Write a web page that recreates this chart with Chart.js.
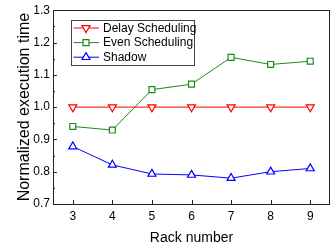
<!DOCTYPE html>
<html>
<head>
<meta charset="utf-8">
<script src="https://cdn.jsdelivr.net/npm/chart.js@4"></script>
<style>
html,body{margin:0;padding:0;background:#fff;}
#wrap{width:336px;height:251px;}
</style>
</head>
<body>
<div id="wrap"><canvas id="c" width="336" height="251"></canvas></div>
<script>
const racks = [3, 4, 5, 6, 7, 8, 9];
const delayScheduling = [1.0, 1.0, 1.0, 1.0, 1.0, 1.0, 1.0];
const evenScheduling = [0.940, 0.929, 1.054, 1.071, 1.154, 1.132, 1.142];
const shadow = [0.878, 0.821, 0.793, 0.790, 0.780, 0.800, 0.810];
const yTicks = [0.7, 0.8, 0.9, 1.0, 1.1, 1.2, 1.3];

const FONT = "'Liberation Sans', Arial, sans-serif";
const pts = arr => racks.map((r, i) => ({x: r, y: arr[i]}));

const frame = {
  id: 'frame',
  afterDraw(chart) {
    const {ctx, chartArea: a, scales: {x, y}} = chart;
    ctx.save();
    ctx.strokeStyle = '#222';
    ctx.lineWidth = 1;
    ctx.strokeRect(Math.round(a.left) + 0.5, Math.round(a.top) + 0.5,
      Math.round(a.right - a.left) - 1, Math.round(a.bottom - a.top));
    ctx.beginPath();
    for (let i = 0; i < yTicks.length; i++) {
      const py = Math.round(y.getPixelForValue(yTicks[i])) + 0.5;
      ctx.moveTo(a.left, py); ctx.lineTo(a.left + 4, py);
      if (i < yTicks.length - 1) {
        const my = Math.round(y.getPixelForValue((yTicks[i] + yTicks[i + 1]) / 2)) + 0.5;
        ctx.moveTo(a.left, my); ctx.lineTo(a.left + 2, my);
      }
    }
    racks.forEach(r => {
      const px = Math.round(x.getPixelForValue(r)) + 0.5;
      ctx.moveTo(px, a.bottom); ctx.lineTo(px, a.bottom - 4);
    });
    ctx.stroke();

    // legend
    const lx = 71.5, ly = 20.5, lw = 123, lh = 45;
    ctx.fillStyle = '#fff';
    ctx.fillRect(lx, ly, lw, lh);
    ctx.strokeStyle = '#444';
    ctx.strokeRect(lx, ly, lw, lh);
    ctx.font = '12px ' + FONT;
    ctx.textBaseline = 'middle';
    ctx.textAlign = 'left';
    chart.data.datasets.forEach((ds, i) => {
      const ry = 28 + i * 14.6;
      ctx.strokeStyle = ds.borderColor;
      ctx.lineWidth = 1;
      ctx.beginPath();
      ctx.moveTo(73.5, ry); ctx.lineTo(99, ry);
      ctx.stroke();
      ctx.fillStyle = '#ffffff';
      ctx.strokeStyle = ds.pointBorderColor;
      ctx.lineWidth = 1.2;
      Chart.helpers.drawPoint(ctx, {
        pointStyle: ds.pointStyle, radius: ds.pointRadius,
        rotation: ds.pointRotation || 0, borderWidth: 1.2
      }, 86, ry);
      ctx.fillStyle = '#000';
      ctx.fillText(ds.label, 103, ry + 0.5);
    });
    ctx.restore();
  }
};

new Chart(document.getElementById('c'), {
  type: 'line',
  data: {
    datasets: [
      {label: 'Delay Scheduling', data: pts(delayScheduling), borderColor: '#ff0000',
       pointBorderColor: '#ff0000', backgroundColor: '#ffffff', pointBackgroundColor: '#ffffff',
       pointStyle: 'triangle', pointRotation: 180, pointRadius: 4.6, borderWidth: 1, pointBorderWidth: 1.2},
      {label: 'Even Scheduling', data: pts(evenScheduling), borderColor: '#1a8a1a',
       pointBorderColor: '#1a8a1a', backgroundColor: '#ffffff', pointBackgroundColor: '#ffffff',
       pointStyle: 'rect', pointRadius: 4.2, borderWidth: 1, pointBorderWidth: 1.2},
      {label: 'Shadow', data: pts(shadow), borderColor: '#0000ff',
       pointBorderColor: '#0000ff', backgroundColor: '#ffffff', pointBackgroundColor: '#ffffff',
       pointStyle: 'triangle', pointRadius: 4.6, borderWidth: 1, pointBorderWidth: 1.2}
    ]
  },
  options: {
    responsive: false,
    animation: false,
    layout: {padding: {left: 0, right: 6, top: 10, bottom: 0}},
    plugins: {legend: {display: false}, tooltip: {enabled: false}},
    elements: {line: {tension: 0}},
    scales: {
      x: {
        type: 'linear', min: 2.5, max: 9.5,
        afterBuildTicks: s => { s.ticks = racks.map(v => ({value: v})); },
        afterFit: s => { s.height = 47; },
        grid: {display: false, drawTicks: false},
        border: {display: false},
        ticks: {color: '#000', font: {family: FONT, size: 12}, padding: 5, maxRotation: 0},
        title: {display: true, text: 'Rack number', color: '#000',
          font: {family: FONT, size: 14}, padding: {top: 0, bottom: 4}}
      },
      y: {
        min: 0.7, max: 1.3,
        afterBuildTicks: s => { s.ticks = yTicks.map(v => ({value: v})); },
        afterFit: s => { s.width = 53; },
        grid: {display: false, drawTicks: false},
        border: {display: false},
        ticks: {color: '#000', font: {family: FONT, size: 12}, padding: 3,
          callback: v => Number(v).toFixed(1)},
        title: {display: true, text: 'Normalized execution time', color: '#000',
          font: {family: FONT, size: 16}, padding: {top: 15, bottom: 0}}
      }
    }
  },
  plugins: [frame]
});
</script>
</body>
</html>
